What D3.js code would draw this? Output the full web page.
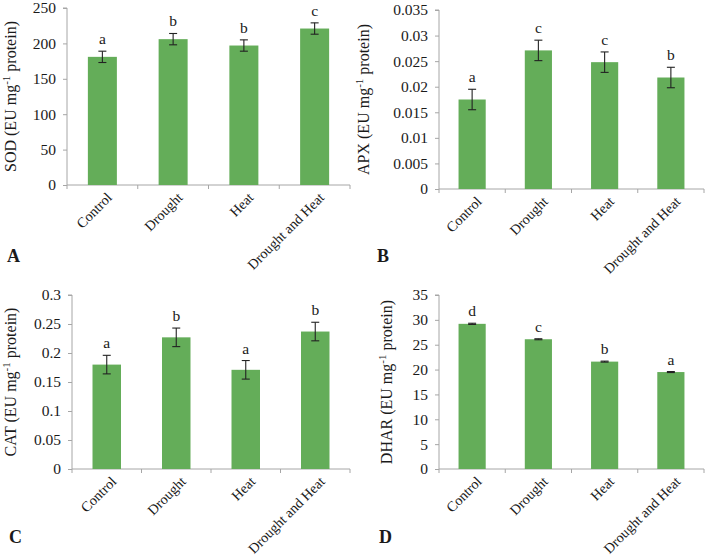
<!DOCTYPE html>
<html>
<head>
<meta charset="utf-8">
<script src="https://cdn.jsdelivr.net/npm/d3@7"></script>
<style>
  html, body { margin: 0; padding: 0; background: #fff; }
  svg { display: block; }
  text { font-family: "Liberation Serif", "DejaVu Serif", serif; fill: #1a1a1a; }
</style>
</head>
<body>
<svg id="chart" width="708" height="560"></svg>
<script>
// ---------- data ----------
const categories = ["Control", "Drought", "Heat", "Drought and Heat"];

const sodValues  = [181, 206, 197, 221];
const sodErrors  = [8, 8, 8, 8];
const sodLetters = ["a", "b", "b", "c"];
const sodTicks   = [0, 50, 100, 150, 200, 250];

const apxValues  = [0.0175, 0.0271, 0.0248, 0.0218];
const apxErrors  = [0.002, 0.002, 0.002, 0.002];
const apxLetters = ["a", "c", "c", "b"];
const apxTicks   = [0, 0.005, 0.01, 0.015, 0.02, 0.025, 0.03, 0.035];

const catValues  = [0.180, 0.227, 0.171, 0.237];
const catErrors  = [0.016, 0.016, 0.016, 0.016];
const catLetters = ["a", "b", "a", "b"];
const catTicks   = [0, 0.05, 0.1, 0.15, 0.2, 0.25, 0.3];

const dharValues  = [29.2, 26.1, 21.6, 19.5];
const dharErrors  = [0.12, 0.1, 0.1, 0.1];
const dharLetters = ["d", "c", "b", "a"];
const dharTicks   = [0, 5, 10, 15, 20, 25, 30, 35];

const panelNames = ["SOD", "APX", "CAT", "DHAR"];
const panelTags  = ["A", "B", "C", "D"];

// ---------- layout (pixel geometry, separate from data) ----------
const layout = [
  { left: 67,  right: 350, top: 8,   bottom: 185, titleX: 16,  tagX: 7,   tagY: 262 },
  { left: 439, right: 704, top: 10,  bottom: 189, titleX: 369, tagX: 377, tagY: 262 },
  { left: 72,  right: 350, top: 295, bottom: 469, titleX: 16,  tagX: 9,   tagY: 543 },
  { left: 439, right: 704, top: 295, bottom: 469, titleX: 392, tagX: 379, tagY: 543 }
];

const series = [
  { values: sodValues,  errors: sodErrors,  letters: sodLetters,  ticks: sodTicks },
  { values: apxValues,  errors: apxErrors,  letters: apxLetters,  ticks: apxTicks },
  { values: catValues,  errors: catErrors,  letters: catLetters,  ticks: catTicks },
  { values: dharValues, errors: dharErrors, letters: dharLetters, ticks: dharTicks }
];

const barColor = "#64ad59";
const axisColor = "#a6a6a6";
const svg = d3.select("#chart");

series.forEach((s, i) => {
  const L = layout[i];
  const g = svg.append("g");
  const tMax = s.ticks[s.ticks.length - 1];

  const x = d3.scaleBand().domain(categories).range([L.left, L.right]).padding(0);
  const y = d3.scaleLinear().domain([0, tMax]).range([L.bottom, L.top]);
  const barW = x.bandwidth() * 0.41;

  // y axis
  const yAxis = d3.axisLeft(y).tickValues(s.ticks).tickSize(4).tickPadding(7)
    .tickFormat(d => String(+d.toFixed(6)));
  const ya = g.append("g").attr("transform", `translate(${L.left},0)`).call(yAxis);
  ya.select(".domain").attr("stroke", axisColor).attr("d", `M-4,${y(tMax)}H0V${y(0)}`);
  ya.selectAll(".tick line").attr("stroke", axisColor);
  ya.selectAll(".tick text").attr("font-size", "15.5px")
    .style("font-family", '"Liberation Serif", serif').attr("fill", "#1a1a1a");

  // x axis
  const xa = g.append("g").attr("transform", `translate(0,${L.bottom})`);
  xa.append("line").attr("x1", L.left).attr("x2", L.right).attr("y1", 0).attr("y2", 0)
    .attr("stroke", axisColor);
  const bounds = categories.map(c => x(c)).concat([L.right]);
  xa.selectAll("line.tk").data(bounds).enter().append("line").attr("class", "tk")
    .attr("x1", d => d).attr("x2", d => d).attr("y1", 0).attr("y2", 4)
    .attr("stroke", axisColor);
  xa.selectAll("text.cat").data(categories).enter().append("text").attr("class", "cat")
    .attr("transform", d => `translate(${x(d) + x.bandwidth() / 2 + 7},${10}) rotate(-45)`)
    .attr("text-anchor", "end").attr("dy", "0.35em").attr("font-size", "14.2px")
    .text(d => d);

  // bars
  const data = categories.map((c, k) => ({ c, v: s.values[k], e: s.errors[k], l: s.letters[k] }));
  g.selectAll("rect.bar").data(data).enter().append("rect").attr("class", "bar")
    .attr("x", d => x(d.c) + x.bandwidth() / 2 - barW / 2)
    .attr("width", barW)
    .attr("y", d => y(d.v))
    .attr("height", d => y(0) - y(d.v))
    .attr("fill", barColor);

  // error bars
  const eb = g.selectAll("g.err").data(data).enter().append("g").attr("class", "err")
    .attr("stroke", "#222").attr("stroke-width", 1.1);
  const capW = 4;
  eb.append("line")
    .attr("x1", d => x(d.c) + x.bandwidth() / 2).attr("x2", d => x(d.c) + x.bandwidth() / 2)
    .attr("y1", d => y(d.v + d.e)).attr("y2", d => y(d.v - d.e));
  eb.append("line")
    .attr("x1", d => x(d.c) + x.bandwidth() / 2 - capW).attr("x2", d => x(d.c) + x.bandwidth() / 2 + capW)
    .attr("y1", d => y(d.v + d.e)).attr("y2", d => y(d.v + d.e));
  eb.append("line")
    .attr("x1", d => x(d.c) + x.bandwidth() / 2 - capW).attr("x2", d => x(d.c) + x.bandwidth() / 2 + capW)
    .attr("y1", d => y(d.v - d.e)).attr("y2", d => y(d.v - d.e));

  // significance letters
  g.selectAll("text.sig").data(data).enter().append("text").attr("class", "sig")
    .attr("x", d => x(d.c) + x.bandwidth() / 2)
    .attr("y", d => y(d.v + d.e) - 7)
    .attr("text-anchor", "middle").attr("font-size", "15.5px")
    .text(d => d.l);

  // y-axis title
  const midY = (L.top + L.bottom) / 2;
  const title = g.append("text")
    .attr("transform", `translate(${L.titleX},${midY}) rotate(-90)`)
    .attr("text-anchor", "middle").attr("font-size", "16px");
  title.append("tspan").text(panelNames[i] + " (EU mg");
  title.append("tspan").attr("font-size", "11px").attr("dy", "-6").text("-1");
  title.append("tspan").attr("dy", "6").text(" protein)");

  // panel tag
  g.append("text").attr("x", L.tagX).attr("y", L.tagY)
    .attr("font-size", "18px").attr("font-weight", "bold").text(panelTags[i]);
});
</script>
</body>
</html>
